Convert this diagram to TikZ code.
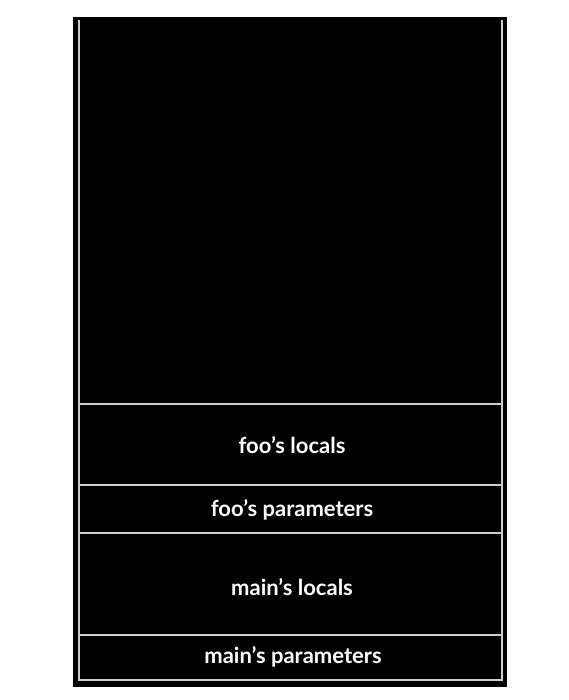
\documentclass[tikz,border=0pt]{standalone}
\usepackage{fontspec}
\setmainfont{Lato}
\begin{document}
\begin{tikzpicture}[x=1pt,y=-1pt, line width=2pt]
        \definecolor{stackcolor}{RGB}{0, 0, 0}
        \definecolor{edgecolor}{RGB}{205, 205, 205}
        \tikzset{framelabel/.style={text=white, font=\fontsize{22}{26}\selectfont\bfseries}}

        \useasboundingbox (0,0) rectangle (568,700);

        % Draw background
        \fill[stackcolor] (73,17) rectangle (507,687);

        % Draw outer lines
        \draw[edgecolor] (79,20) -- (79,680) -- (502,680) -- (502,20);

        % Draw frame borders
        \draw[edgecolor] (79,404) -- (502,404);
        \draw[edgecolor] (79,485) -- (502,485);
        \draw[edgecolor] (79,533) -- (502,533);
        \draw[edgecolor] (79,635) -- (502,635);

        % Label frames
        \node[framelabel] (fooloc) at (292,445) {foo's locals};
        \node[framelabel] (foopar) at (292,510) {foo's parameters};
        \node[framelabel] (mainloc) at (292,587) {main's locals};
        \node[framelabel] (mainpar) at (293,657) {main's parameters};
    \end{tikzpicture}
\end{document}
